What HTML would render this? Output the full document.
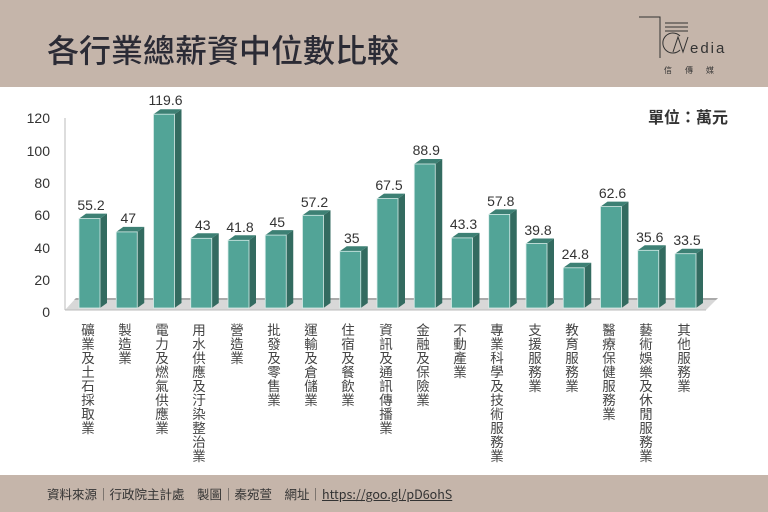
<!DOCTYPE html>
<html><head><meta charset="utf-8"><style>
body{margin:0;width:768px;height:512px;position:relative;overflow:hidden;background:#fff;font-family:"Liberation Sans","Noto Sans CJK TC",sans-serif;}
.hdr{position:absolute;left:0;top:0;width:768px;height:87px;background:#c5b5aa;}
.ttl{position:absolute;left:47px;top:26px;font-size:32px;color:#2b2b35;font-family:"Noto Sans CJK TC",sans-serif;font-weight:500;letter-spacing:0;}
.ftr{position:absolute;left:0;top:475px;width:768px;height:37px;background:#c5b5aa;font-size:12.5px;color:#333;font-family:"Noto Sans CJK TC",sans-serif;}
.ftr span{position:absolute;left:47px;top:9px;white-space:pre;}
.lab{position:absolute;top:323px;writing-mode:vertical-rl;font-size:13.5px;line-height:14px;color:#444;font-family:"Noto Sans CJK TC",sans-serif;letter-spacing:0.5px;}
.unit{position:absolute;left:648px;top:104px;font-size:16px;font-weight:bold;color:#333;font-family:"Noto Sans CJK TC",sans-serif;}
</style></head><body>
<div class="hdr"></div>
<div class="ttl">各行業總薪資中位數比較</div>
<svg style="position:absolute;left:0;top:0" width="768" height="512">
<g stroke="#333" fill="none" stroke-width="1">
<polyline points="639,17 660,17 660,58"/>
<line x1="665" y1="23" x2="688" y2="23"/><line x1="665" y1="27" x2="688" y2="27"/><line x1="665" y1="31" x2="688" y2="31"/>
<path d="M680,50 A10,10 0 1,1 680,36"/>
<polyline points="673,52 678,37 683,52 688,37"/>
</g>
<text x="690" y="53" font-size="15" fill="#333" font-family="Liberation Sans" letter-spacing="2">edia</text>
<text x="664" y="73" font-size="8" fill="#333" font-family="Noto Sans CJK TC" letter-spacing="13">信傳媒</text>
<g font-size="14" fill="#333" text-anchor="end" font-family="Liberation Sans">
<text x="50" y="123">120</text><text x="50" y="156">100</text><text x="50" y="188">80</text><text x="50" y="220">60</text><text x="50" y="253">40</text><text x="50" y="285">20</text><text x="50" y="317">0</text>
</g>
<line x1="65" y1="118" x2="65" y2="310" stroke="#bbb"/>
<polygon points="65,310 76,298 718,298 706,310" fill="#d8d8d8"/>
<polygon points="76,298 718,298 716,300 74,300" fill="#aaa"/>
<line x1="65" y1="310" x2="706" y2="310" stroke="#bbb"/>
<g font-size="14" fill="#333" text-anchor="middle" font-family="Liberation Sans">
<g transform="translate(79,308)"><polygon points="21,-89.4 28,-94.4 28,-5 21,0" fill="#336b60"/><polygon points="0,-89.4 7,-94.4 28,-94.4 21,-89.4" fill="#3d8074"/><rect x="0" y="-89.4" width="21" height="89.4" fill="#52a497" stroke="#d7ece8" stroke-width="0.8"/><text x="12" y="-98">55.2</text></g>
<g transform="translate(116.25,308)"><polygon points="21,-76.1 28,-81.1 28,-5 21,0" fill="#336b60"/><polygon points="0,-76.1 7,-81.1 28,-81.1 21,-76.1" fill="#3d8074"/><rect x="0" y="-76.1" width="21" height="76.1" fill="#52a497" stroke="#d7ece8" stroke-width="0.8"/><text x="12" y="-85">47</text></g>
<g transform="translate(153.5,308)"><polygon points="21,-193.8 28,-198.8 28,-5 21,0" fill="#336b60"/><polygon points="0,-193.8 7,-198.8 28,-198.8 21,-193.8" fill="#3d8074"/><rect x="0" y="-193.8" width="21" height="193.8" fill="#52a497" stroke="#d7ece8" stroke-width="0.8"/><text x="12" y="-203">119.6</text></g>
<g transform="translate(190.75,308)"><polygon points="21,-69.7 28,-74.7 28,-5 21,0" fill="#336b60"/><polygon points="0,-69.7 7,-74.7 28,-74.7 21,-69.7" fill="#3d8074"/><rect x="0" y="-69.7" width="21" height="69.7" fill="#52a497" stroke="#d7ece8" stroke-width="0.8"/><text x="12" y="-78">43</text></g>
<g transform="translate(228,308)"><polygon points="21,-67.7 28,-72.7 28,-5 21,0" fill="#336b60"/><polygon points="0,-67.7 7,-72.7 28,-72.7 21,-67.7" fill="#3d8074"/><rect x="0" y="-67.7" width="21" height="67.7" fill="#52a497" stroke="#d7ece8" stroke-width="0.8"/><text x="12" y="-76">41.8</text></g>
<g transform="translate(265.25,308)"><polygon points="21,-72.9 28,-77.9 28,-5 21,0" fill="#336b60"/><polygon points="0,-72.9 7,-77.9 28,-77.9 21,-72.9" fill="#3d8074"/><rect x="0" y="-72.9" width="21" height="72.9" fill="#52a497" stroke="#d7ece8" stroke-width="0.8"/><text x="12" y="-81">45</text></g>
<g transform="translate(302.5,308)"><polygon points="21,-92.7 28,-97.7 28,-5 21,0" fill="#336b60"/><polygon points="0,-92.7 7,-97.7 28,-97.7 21,-92.7" fill="#3d8074"/><rect x="0" y="-92.7" width="21" height="92.7" fill="#52a497" stroke="#d7ece8" stroke-width="0.8"/><text x="12" y="-101">57.2</text></g>
<g transform="translate(339.75,308)"><polygon points="21,-56.7 28,-61.7 28,-5 21,0" fill="#336b60"/><polygon points="0,-56.7 7,-61.7 28,-61.7 21,-56.7" fill="#3d8074"/><rect x="0" y="-56.7" width="21" height="56.7" fill="#52a497" stroke="#d7ece8" stroke-width="0.8"/><text x="12" y="-65">35</text></g>
<g transform="translate(377,308)"><polygon points="21,-109.4 28,-114.4 28,-5 21,0" fill="#336b60"/><polygon points="0,-109.4 7,-114.4 28,-114.4 21,-109.4" fill="#3d8074"/><rect x="0" y="-109.4" width="21" height="109.4" fill="#52a497" stroke="#d7ece8" stroke-width="0.8"/><text x="12" y="-118">67.5</text></g>
<g transform="translate(414.25,308)"><polygon points="21,-144 28,-149 28,-5 21,0" fill="#336b60"/><polygon points="0,-144 7,-149 28,-149 21,-144" fill="#3d8074"/><rect x="0" y="-144" width="21" height="144" fill="#52a497" stroke="#d7ece8" stroke-width="0.8"/><text x="12" y="-153">88.9</text></g>
<g transform="translate(451.5,308)"><polygon points="21,-70.1 28,-75.1 28,-5 21,0" fill="#336b60"/><polygon points="0,-70.1 7,-75.1 28,-75.1 21,-70.1" fill="#3d8074"/><rect x="0" y="-70.1" width="21" height="70.1" fill="#52a497" stroke="#d7ece8" stroke-width="0.8"/><text x="12" y="-79">43.3</text></g>
<g transform="translate(488.75,308)"><polygon points="21,-93.6 28,-98.6 28,-5 21,0" fill="#336b60"/><polygon points="0,-93.6 7,-98.6 28,-98.6 21,-93.6" fill="#3d8074"/><rect x="0" y="-93.6" width="21" height="93.6" fill="#52a497" stroke="#d7ece8" stroke-width="0.8"/><text x="12" y="-102">57.8</text></g>
<g transform="translate(526,308)"><polygon points="21,-64.5 28,-69.5 28,-5 21,0" fill="#336b60"/><polygon points="0,-64.5 7,-69.5 28,-69.5 21,-64.5" fill="#3d8074"/><rect x="0" y="-64.5" width="21" height="64.5" fill="#52a497" stroke="#d7ece8" stroke-width="0.8"/><text x="12" y="-73">39.8</text></g>
<g transform="translate(563.25,308)"><polygon points="21,-40.2 28,-45.2 28,-5 21,0" fill="#336b60"/><polygon points="0,-40.2 7,-45.2 28,-45.2 21,-40.2" fill="#3d8074"/><rect x="0" y="-40.2" width="21" height="40.2" fill="#52a497" stroke="#d7ece8" stroke-width="0.8"/><text x="12" y="-49">24.8</text></g>
<g transform="translate(600.5,308)"><polygon points="21,-101.4 28,-106.4 28,-5 21,0" fill="#336b60"/><polygon points="0,-101.4 7,-106.4 28,-106.4 21,-101.4" fill="#3d8074"/><rect x="0" y="-101.4" width="21" height="101.4" fill="#52a497" stroke="#d7ece8" stroke-width="0.8"/><text x="12" y="-110">62.6</text></g>
<g transform="translate(637.75,308)"><polygon points="21,-57.7 28,-62.7 28,-5 21,0" fill="#336b60"/><polygon points="0,-57.7 7,-62.7 28,-62.7 21,-57.7" fill="#3d8074"/><rect x="0" y="-57.7" width="21" height="57.7" fill="#52a497" stroke="#d7ece8" stroke-width="0.8"/><text x="12" y="-66">35.6</text></g>
<g transform="translate(675,308)"><polygon points="21,-54.3 28,-59.3 28,-5 21,0" fill="#336b60"/><polygon points="0,-54.3 7,-59.3 28,-59.3 21,-54.3" fill="#3d8074"/><rect x="0" y="-54.3" width="21" height="54.3" fill="#52a497" stroke="#d7ece8" stroke-width="0.8"/><text x="12" y="-63">33.5</text></g>
</g>
</svg>
<div class="unit">單位：萬元</div>
<div class="lab" style="left:81px">礦業及土石採取業</div>
<div class="lab" style="left:118px">製造業</div>
<div class="lab" style="left:155px">電力及燃氣供應業</div>
<div class="lab" style="left:192px">用水供應及汙染整治業</div>
<div class="lab" style="left:230px">營造業</div>
<div class="lab" style="left:267px">批發及零售業</div>
<div class="lab" style="left:304px">運輸及倉儲業</div>
<div class="lab" style="left:341px">住宿及餐飲業</div>
<div class="lab" style="left:379px">資訊及通訊傳播業</div>
<div class="lab" style="left:416px">金融及保險業</div>
<div class="lab" style="left:453px">不動產業</div>
<div class="lab" style="left:490px">專業科學及技術服務業</div>
<div class="lab" style="left:528px">支援服務業</div>
<div class="lab" style="left:565px">教育服務業</div>
<div class="lab" style="left:602px">醫療保健服務業</div>
<div class="lab" style="left:639px">藝術娛樂及休閒服務業</div>
<div class="lab" style="left:677px">其他服務業</div>
<div class="ftr"><span>資料來源｜行政院主計處　製圖｜秦宛萱　網址｜<u>https://goo.gl/pD6ohS</u></span></div>
</body></html>
